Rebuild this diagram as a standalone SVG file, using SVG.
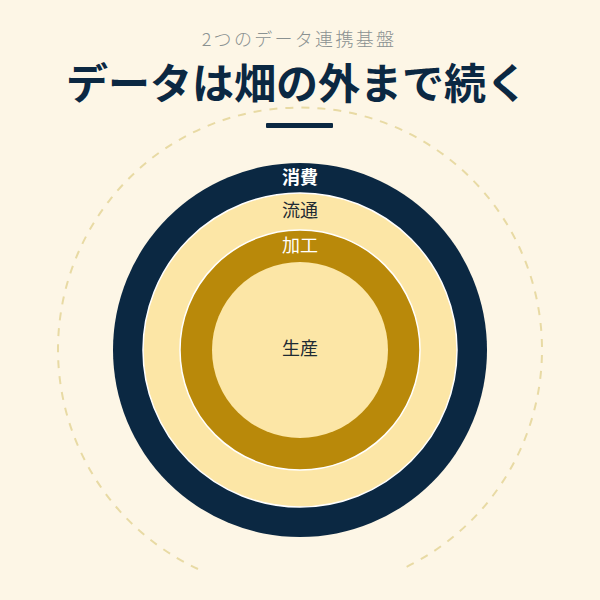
<svg xmlns="http://www.w3.org/2000/svg" width="600" height="600" viewBox="0 0 600 600">
<style>
.jp{font-family:"Noto Sans CJK JP","Noto Sans",sans-serif;text-anchor:middle}
.lbl{font-size:18px}
</style>
<rect width="600" height="600" fill="#FDF6E6"/>
<g id="header">
<text class="jp" x="299" y="46" font-size="18" letter-spacing="2.3" fill="#8A9191" font-weight="300">2つのデータ連携基盤</text>
<text class="jp" x="297" y="99" font-size="42" font-weight="700" fill="#0B2842">データは畑の外まで続く</text>
<rect x="266" y="123" width="67" height="5" rx="1" fill="#0B2842"/>
</g>
<g id="connectors">
<path d="M198 569 A242 242 0 1 1 402 569" fill="none" stroke="#E8DAA4" stroke-width="2" stroke-dasharray="8 8"/>
</g>
<g id="consumption">
<circle cx="300" cy="350" r="187" fill="#0B2842"/>
<text class="jp lbl" x="300" y="184" font-weight="700" fill="#FFFFFF">消費</text>
</g>
<g id="distribution">
<circle cx="300" cy="350" r="157" fill="#FCE6A6" stroke="#FFFFFF" stroke-width="1.5"/>
<text class="jp lbl" x="300" y="217" fill="#1E2B33">流通</text>
</g>
<g id="processing">
<circle cx="300" cy="350" r="120" fill="#B9890A" stroke="#FFFFFF" stroke-width="1.5"/>
<text class="jp lbl" x="300" y="252" fill="#FFFFFF">加工</text>
</g>
<g id="production">
<circle cx="300" cy="350" r="88" fill="#FCE6A6"/>
<text class="jp lbl" x="300" y="355" fill="#1E2B33">生産</text>
</g>
</svg>
